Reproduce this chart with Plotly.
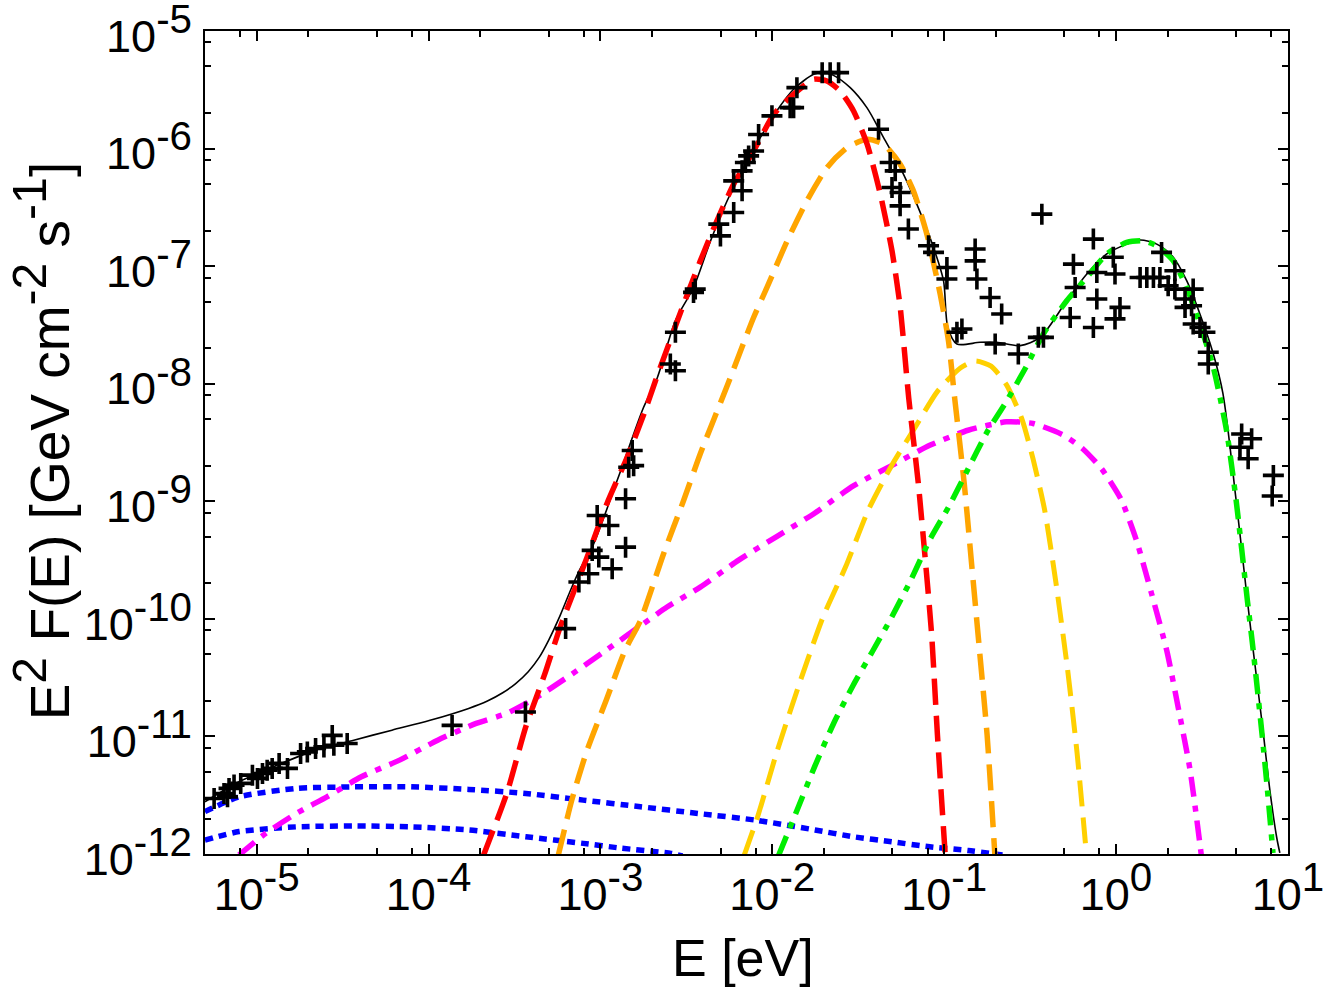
import plotly.graph_objects as go

# ---------------- data ----------------
# data points (E [eV], E^2 F(E) [GeV cm^-2 s^-1])
pts_E = [5.65e-6, 6.45e-6, 6.76e-6, 6.90e-6, 7.38e-6, 8.07e-6, 9.44e-6, 1.01e-5, 1.08e-5, 1.15e-5,
         1.23e-5, 1.35e-5, 1.51e-5, 1.80e-5, 1.97e-5, 2.20e-5, 2.46e-5, 2.75e-5, 2.81e-5, 3.36e-5,
         1.37e-4, 3.66e-4,
         6.27e-4, 7.49e-4, 8.55e-4, 8.95e-4, 9.78e-4, 1.17e-3, 9.57e-4, 1.12e-3, 1.40e-3, 1.40e-3,
         1.46e-3, 1.53e-3, 1.56e-3,
         2.73e-3, 2.55e-3, 2.73e-3, 3.48e-3, 3.56e-3,
         4.88e-3, 4.99e-3, 5.96e-3, 5.96e-3, 6.67e-3, 6.67e-3, 6.97e-3, 7.28e-3, 7.78e-3, 8.32e-3,
         9.95e-3, 1.27e-2, 1.33e-2, 1.39e-2,
         1.95e-2, 2.17e-2, 2.43e-2,
         4.15e-2, 4.85e-2, 5.19e-2, 4.97e-2, 5.54e-2, 5.54e-2, 6.19e-2, 8.11e-2, 8.67e-2,
         0.1037, 0.1037, 0.1514, 0.1514, 0.155, 0.185, 0.216, 0.370, 0.1186, 0.1268,
         0.198, 0.270, 0.353, 0.378,
         0.565, 0.578, 0.541, 0.738, 0.773, 0.773, 0.738, 0.964, 0.986, 1.054, 0.986,
         1.38, 1.51, 1.65, 1.80, 1.84, 2.20, 2.01, 2.20, 2.81, 2.52, 2.75, 2.52,
         2.81, 3.08, 3.29, 3.44, 3.44,
         5.38, 6.15, 5.26, 5.87, 8.23, 8.10]
pts_F = [2.96e-12, 3.27e-12, 3.06e-12, 3.61e-12, 3.85e-12, 3.98e-12, 4.68e-12, 4.39e-12, 4.84e-12, 5.16e-12,
         5.34e-12, 5.89e-12, 5.34e-12, 7.16e-12, 7.38e-12, 7.88e-12, 8.14e-12, 1.02e-11, 8.41e-12, 8.70e-12,
         1.24e-11, 1.61e-11,
         8.26e-11, 2.06e-10, 2.42e-10, 3.82e-10, 3.35e-10, 2.67e-10, 7.57e-10, 6.22e-10, 4.07e-10, 1.05e-9,
         1.95e-9, 2.70e-9, 2.01e-9,
         2.74e-8, 1.47e-8, 1.29e-8, 5.98e-8, 6.38e-8,
         2.28e-7, 1.81e-7, 2.86e-7, 5.32e-7, 4.38e-7, 6.47e-7, 7.61e-7, 8.67e-7, 9.55e-7, 1.32e-6,
         1.90e-6, 2.23e-6, 2.23e-6, 3.30e-6,
         4.43e-6, 4.43e-6, 4.43e-6,
         1.46e-6, 7.61e-7, 6.47e-7, 4.67e-7, 4.23e-7, 3.26e-7, 2.07e-7, 1.49e-7, 1.31e-7,
         9.75e-8, 7.77e-8, 1.40e-7, 1.11e-7, 7.77e-8, 5.42e-8, 3.92e-8, 2.77e-7, 2.74e-8, 2.92e-8,
         2.18e-8, 1.79e-8, 2.48e-8, 2.48e-8,
         1.04e-7, 6.59e-8, 3.66e-8, 1.70e-7, 8.83e-8, 5.25e-8, 3.01e-8, 1.19e-7, 8.57e-8, 4.46e-8, 3.56e-8,
         8.01e-8, 8.01e-8, 8.01e-8, 8.01e-8, 1.31e-7, 9.14e-8, 6.81e-8, 6.38e-8, 6.38e-8, 5.25e-8, 4.61e-8, 4.46e-8,
         3.22e-8, 3.01e-8, 2.74e-8, 1.85e-8, 1.47e-8,
         3.74e-9, 3.40e-9, 2.88e-9, 2.30e-9, 1.66e-9, 1.11e-9]

# total model (solid black)
tot_E = [5.0e-6, 7.89e-6, 1.32e-5, 2.20e-5, 3.67e-5, 6.12e-5, 1.02e-4, 1.71e-4, 2.20e-4, 2.70e-4,
         3.20e-4, 3.80e-4, 4.40e-4, 5.00e-4, 5.83e-4, 6.64e-4, 7.50e-4, 9.10e-4, 1.25e-3, 1.78e-3, 2.14e-3, 2.73e-3,
         3.48e-3, 4.37e-3, 5.46e-3, 6.81e-3, 8.51e-3, 1.06e-2, 1.33e-2, 1.74e-2, 2.00e-2, 2.27e-2,
         2.84e-2, 3.55e-2, 4.44e-2, 5.55e-2, 6.93e-2, 8.67e-2, 9.91e-2, 0.1050, 0.1186, 0.1618,
         0.2023, 0.2767, 0.3614, 0.5164, 0.676, 0.883, 1.153, 1.380, 1.726, 2.153,
         2.576, 3.076, 3.681, 4.188, 4.989, 5.808, 6.281, 7.194, 7.852, 8.590, 8.974]
tot_F = [2.78e-12, 4.11e-12, 5.70e-12, 7.64e-12, 9.29e-12, 1.13e-11, 1.37e-11, 1.73e-11, 2.00e-11, 2.35e-11,
         2.80e-11, 3.55e-11, 4.70e-11, 6.60e-11, 1.07e-10, 1.70e-10, 2.55e-10, 4.30e-10, 1.50e-9, 6.27e-9, 1.12e-8, 3.44e-8,
         6.59e-8, 1.64e-7, 3.60e-7, 6.90e-7, 1.24e-6, 2.09e-6, 3.20e-6, 4.29e-6, 4.45e-6, 4.20e-6,
         3.30e-6, 2.23e-6, 1.24e-6, 6.90e-7, 3.37e-7, 1.44e-7, 7.52e-8, 3.01e-8, 2.18e-8, 2.25e-8,
         2.25e-8, 2.11e-8, 2.48e-8, 5.08e-8, 8.57e-8, 1.27e-7, 1.54e-7, 1.67e-7, 1.54e-7, 1.19e-7,
         7.52e-8, 3.92e-8, 1.79e-8, 8.24e-9, 1.04e-9, 1.44e-10, 5.40e-11, 1.06e-11, 3.49e-12, 1.40e-12, 1.02e-12]

red_E = [2.09e-4, 2.85e-4, 3.68e-4, 4.75e-4, 5.83e-4, 8.37e-4, 1.09e-3, 1.43e-3, 1.79e-3, 2.09e-3,
         2.85e-3, 3.81e-3, 4.76e-3, 5.96e-3, 7.78e-3, 1.02e-2, 1.33e-2, 1.74e-2, 2.08e-2, 2.48e-2,
         2.97e-2, 3.56e-2, 4.25e-2, 4.97e-2, 5.55e-2, 6.22e-2, 7.06e-2, 7.83e-2, 8.45e-2, 9.14e-2, 0.1014]
red_F = [9.8e-13, 3.27e-12, 1.21e-11, 3.42e-11, 8.51e-11, 3.35e-10, 9.53e-10, 2.37e-9, 5.53e-9, 1.06e-8,
         3.66e-8, 1.11e-7, 2.43e-7, 4.99e-7, 9.55e-7, 1.96e-6, 2.90e-6, 3.89e-6, 3.76e-6, 3.09e-6,
         2.09e-6, 1.09e-6, 4.10e-7, 1.35e-7, 4.46e-8, 7.53e-9, 1.45e-9, 2.77e-10, 7.38e-11, 1.02e-11, 9.8e-13]

orange_E = [5.69e-4, 6.81e-4, 8.36e-4, 1.08e-3, 1.39e-3, 1.71e-3, 2.33e-3, 3.05e-3, 3.81e-3, 5.47e-3,
            7.78e-3, 9.31e-3, 1.22e-2, 1.59e-2, 2.08e-2, 2.72e-2, 3.56e-2, 4.44e-2, 5.55e-2, 6.62e-2,
            7.93e-2, 9.48e-2, 0.1059, 0.1151, 0.1306, 0.1449, 0.1607, 0.1778, 0.1972]
orange_F = [9.8e-13, 2.87e-12, 7.64e-12, 2.03e-11, 5.40e-11, 9.70e-11, 3.58e-10, 1.02e-9, 2.54e-9, 9.64e-9,
            3.66e-8, 6.59e-8, 1.64e-7, 3.60e-7, 6.90e-7, 1.02e-6, 1.20e-6, 1.09e-6, 7.36e-7, 4.38e-7,
            1.87e-7, 5.79e-8, 2.32e-8, 7.53e-9, 1.45e-9, 2.77e-10, 5.30e-11, 1.02e-11, 9.8e-13]

gold_E = [6.87e-3, 8.22e-3, 1.06e-2, 1.45e-2, 1.97e-2, 2.67e-2, 3.63e-2, 4.94e-2, 6.71e-2, 9.14e-2,
          0.1242, 0.1524, 0.1875, 0.2301, 0.2825, 0.3289, 0.3837, 0.4477, 0.5212, 0.5929, 0.6730]
gold_F = [9.8e-13, 2.08e-12, 7.29e-12, 2.92e-11, 1.03e-10, 2.77e-10, 8.51e-10, 2.01e-9, 4.16e-9, 8.61e-9,
          1.36e-8, 1.56e-8, 1.41e-8, 9.82e-9, 5.07e-9, 2.29e-9, 8.51e-10, 1.99e-10, 3.81e-11, 7.29e-12, 9.8e-13]

green_E = [1.09e-2, 1.37e-2, 1.77e-2, 2.29e-2, 2.96e-2, 3.83e-2, 4.94e-2, 6.38e-2, 8.24e-2, 0.1067,
           0.1377, 0.1778, 0.2301, 0.2972, 0.3776, 0.5164, 0.676, 0.883, 1.153, 1.442,
           1.726, 2.153, 2.576, 3.076, 3.681, 4.395, 4.989, 5.808, 6.281, 7.063, 7.603, 8.185]
green_F = [9.8e-13, 2.22e-12, 5.61e-12, 1.32e-11, 2.74e-11, 5.30e-11, 1.03e-10, 2.12e-10, 4.69e-10, 9.08e-10,
           1.88e-9, 3.89e-9, 7.06e-9, 1.36e-8, 2.65e-8, 5.08e-8, 8.02e-8, 1.27e-7, 1.59e-7, 1.64e-7,
           1.49e-7, 1.11e-7, 6.59e-8, 3.22e-8, 1.38e-8, 4.00e-9, 1.04e-9, 1.44e-10, 5.40e-11, 1.06e-11, 3.49e-12, 1.02e-12]

magenta_E = [7.89e-6, 1.13e-5, 1.70e-5, 2.56e-5, 4.06e-5, 6.78e-5, 1.13e-4, 1.89e-4, 2.85e-4, 4.30e-4,
             6.46e-4, 1.08e-3, 1.79e-3, 2.44e-3, 3.81e-3, 6.37e-3, 1.06e-2, 1.77e-2, 2.96e-2, 4.94e-2,
             8.24e-2, 0.1377, 0.2301, 0.3289, 0.4955, 0.6397, 0.8260, 1.069, 1.312, 1.611,
             1.977, 2.307, 2.692, 3.133]
magenta_F = [9.8e-13, 1.50e-12, 2.21e-12, 3.06e-12, 4.53e-12, 6.28e-12, 9.29e-12, 1.29e-11, 1.57e-11, 2.17e-11,
             3.21e-11, 5.40e-11, 9.16e-11, 1.26e-10, 1.86e-10, 3.16e-10, 5.01e-10, 7.96e-10, 1.35e-9, 2.01e-9,
             2.99e-9, 4.02e-9, 4.74e-9, 4.59e-9, 3.65e-9, 2.80e-9, 1.88e-9, 1.04e-9, 4.69e-10, 1.63e-10,
             5.30e-11, 1.72e-11, 5.25e-12, 9.8e-13]

blue1_E = [5.0e-6, 7.89e-6, 1.70e-5, 3.67e-5, 7.91e-5, 1.71e-4, 3.68e-4, 7.93e-4, 1.71e-3, 3.69e-3,
           7.96e-3, 1.77e-2, 2.96e-2, 4.94e-2, 8.24e-2, 0.1377, 0.2183]
blue1_F = [2.29e-12, 3.06e-12, 3.61e-12, 3.72e-12, 3.72e-12, 3.54e-12, 3.27e-12, 2.87e-12, 2.52e-12, 2.21e-12,
           1.94e-12, 1.60e-12, 1.40e-12, 1.27e-12, 1.15e-12, 1.07e-12, 9.8e-13]

blue2_E = [5.0e-6, 7.89e-6, 1.70e-5, 3.67e-5, 7.91e-5, 1.71e-4, 3.68e-4, 7.93e-4, 1.32e-3, 2.58e-3, 3.0e-3]
blue2_F = [1.31e-12, 1.55e-12, 1.70e-12, 1.73e-12, 1.70e-12, 1.60e-12, 1.40e-12, 1.23e-12, 1.12e-12, 1.01e-12, 9.6e-13]

x_ticks = [1e-5, 1e-4, 1e-3, 1e-2, 1e-1, 1e0, 1e1]
x_exps = ["-5", "-4", "-3", "-2", "-1", "0", "1"]
y_ticks = [1e-12, 1e-11, 1e-10, 1e-9, 1e-8, 1e-7, 1e-6, 1e-5]
y_exps = ["-12", "-11", "-10", "-9", "-8", "-7", "-6", "-5"]
minor_mult = [2, 5, 8]


def sup(s, pct=128):
    return "<sup><span style='font-size:%d%%'>%s</span></sup>" % (pct, s)


x_labels = ["10" + sup(e) for e in x_exps]
y_labels = ["10" + sup(e) for e in y_exps]

# ---------------- figure ----------------
FONT = "Liberation Sans, Arial, Helvetica, sans-serif"
fig = go.Figure()

fig.add_trace(go.Scatter(x=tot_E, y=tot_F, mode="lines",
                         line=dict(color="black", width=1.6, shape="spline", smoothing=0.8),
                         showlegend=False))

curves = [
    (blue1_E, blue1_F, "#0000FF", "8px,6px", 5.5),
    (blue2_E, blue2_F, "#0000FF", "8px,6px", 5.5),
    (magenta_E, magenta_F, "#FF00FF", "20px,9px,6px,9px", 5.5),
    (gold_E, gold_F, "#FFD000", "26px,11px", 5),
    (orange_E, orange_F, "#FFA500", "26px,11px", 5.5),
    (red_E, red_F, "#FF0000", "26px,11px", 5.5),
    (green_E, green_F, "#00EE00", "20px,9px,6px,9px", 5.5),
]
for xs, ys, col, dash, w in curves:
    fig.add_trace(go.Scatter(x=xs, y=ys, mode="lines",
                             line=dict(color=col, width=w, dash=dash, shape="spline", smoothing=0.6),
                             showlegend=False))

fig.add_trace(go.Scatter(x=pts_E, y=pts_F, mode="markers",
                         marker=dict(symbol="cross-thin", size=15, color="black",
                                     line=dict(color="black", width=3.6)),
                         showlegend=False))

x_minor = [m * 10.0 ** e for e in range(-6, 1) for m in minor_mult]
y_minor = [m * 10.0 ** e for e in range(-12, -5) for m in minor_mult]

axis_common = dict(showline=True, linecolor="black", linewidth=2, mirror="allticks",
                   ticks="inside", ticklen=10, tickwidth=2, tickcolor="black",
                   showgrid=False, zeroline=False, ticklabeloverflow="allow", automargin=False,
                   tickfont=dict(family=FONT, size=45, color="black"))

fig.update_xaxes(type="log", range=[-5.301, 1.0005], tickmode="array", tickvals=x_ticks, ticktext=x_labels,
                 minor=dict(tickmode="array", tickvals=x_minor, ticks="inside", ticklen=6, tickwidth=2,
                            tickcolor="black", showgrid=False),
                 **axis_common)
fig.update_yaxes(type="log", range=[-12.0005, -4.9995], tickmode="array", tickvals=y_ticks, ticktext=y_labels,
                 ticklabelstandoff=2, ticklabelshift=5,
                 minor=dict(tickmode="array", tickvals=y_minor, ticks="inside", ticklen=6, tickwidth=2,
                            tickcolor="black", showgrid=False),
                 **axis_common)

fig.update_layout(
    width=1334, height=1000,
    margin=dict(l=205, r=46, t=31, b=146, autoexpand=False),
    paper_bgcolor="white", plot_bgcolor="white",
    font=dict(family=FONT, color="black"),
    annotations=[
        dict(text="E [eV]", xref="paper", yref="paper", x=0.497, y=-0.126,
             xanchor="center", yanchor="middle", showarrow=False,
             font=dict(family=FONT, size=52, color="black")),
        dict(text="E" + sup("2", 125) + " F(E) [GeV cm" + sup("-2", 125) + " s" + sup("-1", 125) + "]",
             xref="paper", yref="paper",
             x=-0.151, y=0.502, xanchor="center", yanchor="middle", textangle=-90, showarrow=False,
             font=dict(family=FONT, size=55, color="black")),
    ],
)

fig.write_html("out.html")
